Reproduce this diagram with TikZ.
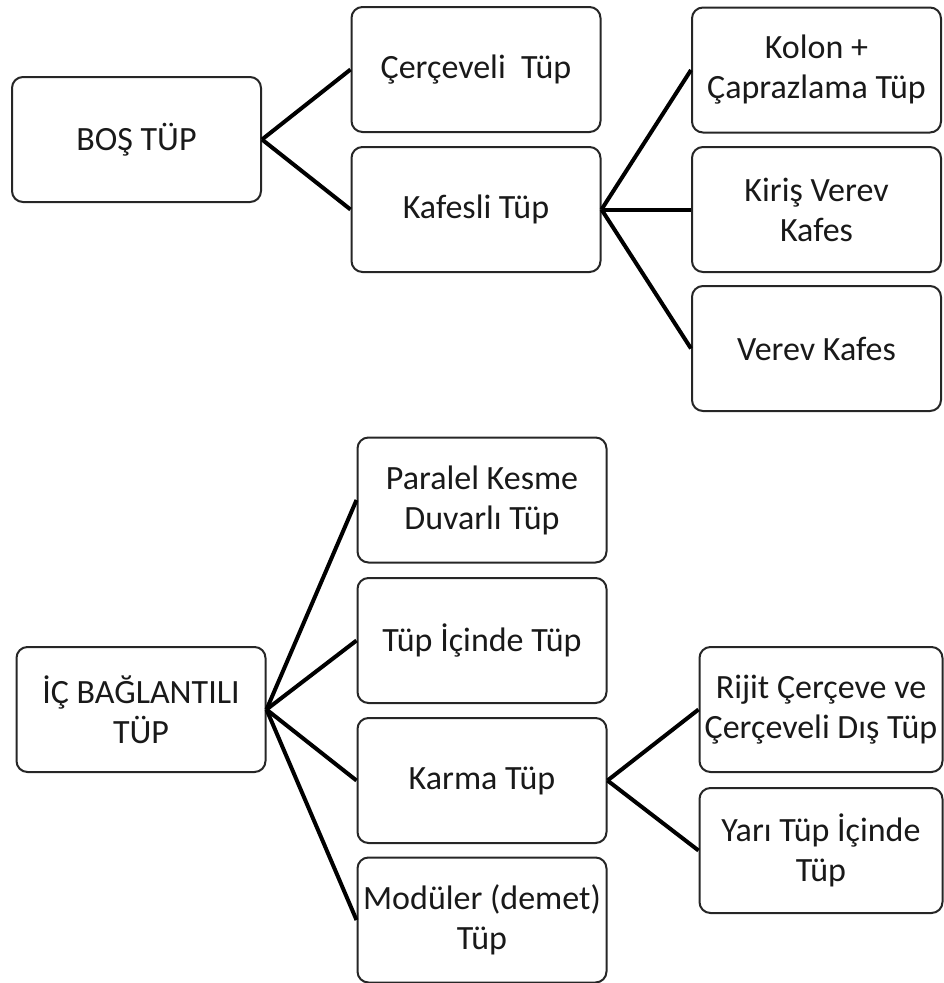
\documentclass[tikz,border=0pt]{standalone}
\usepackage{fontspec}
\setmainfont{Carlito}

\begin{document}
\begin{tikzpicture}[x=1pt,y=-1pt,
  tube box/.style={draw=black!85,line width=2pt,rounded corners=11pt,minimum width=249pt,minimum height=125pt,align=center,inner sep=4pt,text=black!90,font=\fontsize{34}{40}\selectfont},
  sub box/.style={tube box,minimum width=243pt},
  link/.style={-,line width=4pt,black}]
  \useasboundingbox (0,0) rectangle (943,983);

  \node[tube box] (bos) at (136.5,139.5) {BOŞ TÜP};
  \node[tube box] (cerc) at (476,69.5) {Çerçeveli\ \ Tüp};
  \node[tube box] (kafes) at (476,209.5) {Kafesli Tüp};
  \node[tube box] (kolon) at (816.5,70) {Kolon +\\Çaprazlama Tüp};
  \node[tube box] (kiris) at (816.5,209.5) {Kiriş Verev\\Kafes};
  \node[tube box] (verev) at (816.5,348.5) {Verev Kafes};

  \node[tube box] (ic) at (141,709.5) {İÇ BAĞLANTILI\\TÜP};
  \node[tube box] (paralel) at (482,500) {Paralel Kesme\\Duvarlı Tüp};
  \node[tube box] (tupic) at (482,640.5) {Tüp İçinde Tüp};
  \node[tube box] (karma) at (482,780.5) {Karma Tüp};
  \node[tube box] (modul) at (482,920) {Modüler (demet)\\Tüp};
  \node[sub box] (rijit) at (821,709.5) {Rijit Çerçeve ve\\Çerçeveli Dış Tüp};
  \node[sub box] (yari) at (821,850.5) {Yarı Tüp İçinde\\Tüp};
 \path[]
 (bos.east) [link] edge (cerc.west)
 (bos.east) [link] edge (kafes.west)
 (kafes.east) [link] edge (kolon.west)
 (kafes.east) [link] edge (kiris.west)
 (kafes.east) [link] edge (verev.west)
 (ic.east) [link] edge (paralel.west)
 (ic.east) [link] edge (tupic.west)
 (ic.east) [link] edge (karma.west)
 (ic.east) [link] edge (modul.west)
 (karma.east) [link] edge (rijit.west)
 (karma.east) [link] edge (yari.west);
\end{tikzpicture}
\end{document}
